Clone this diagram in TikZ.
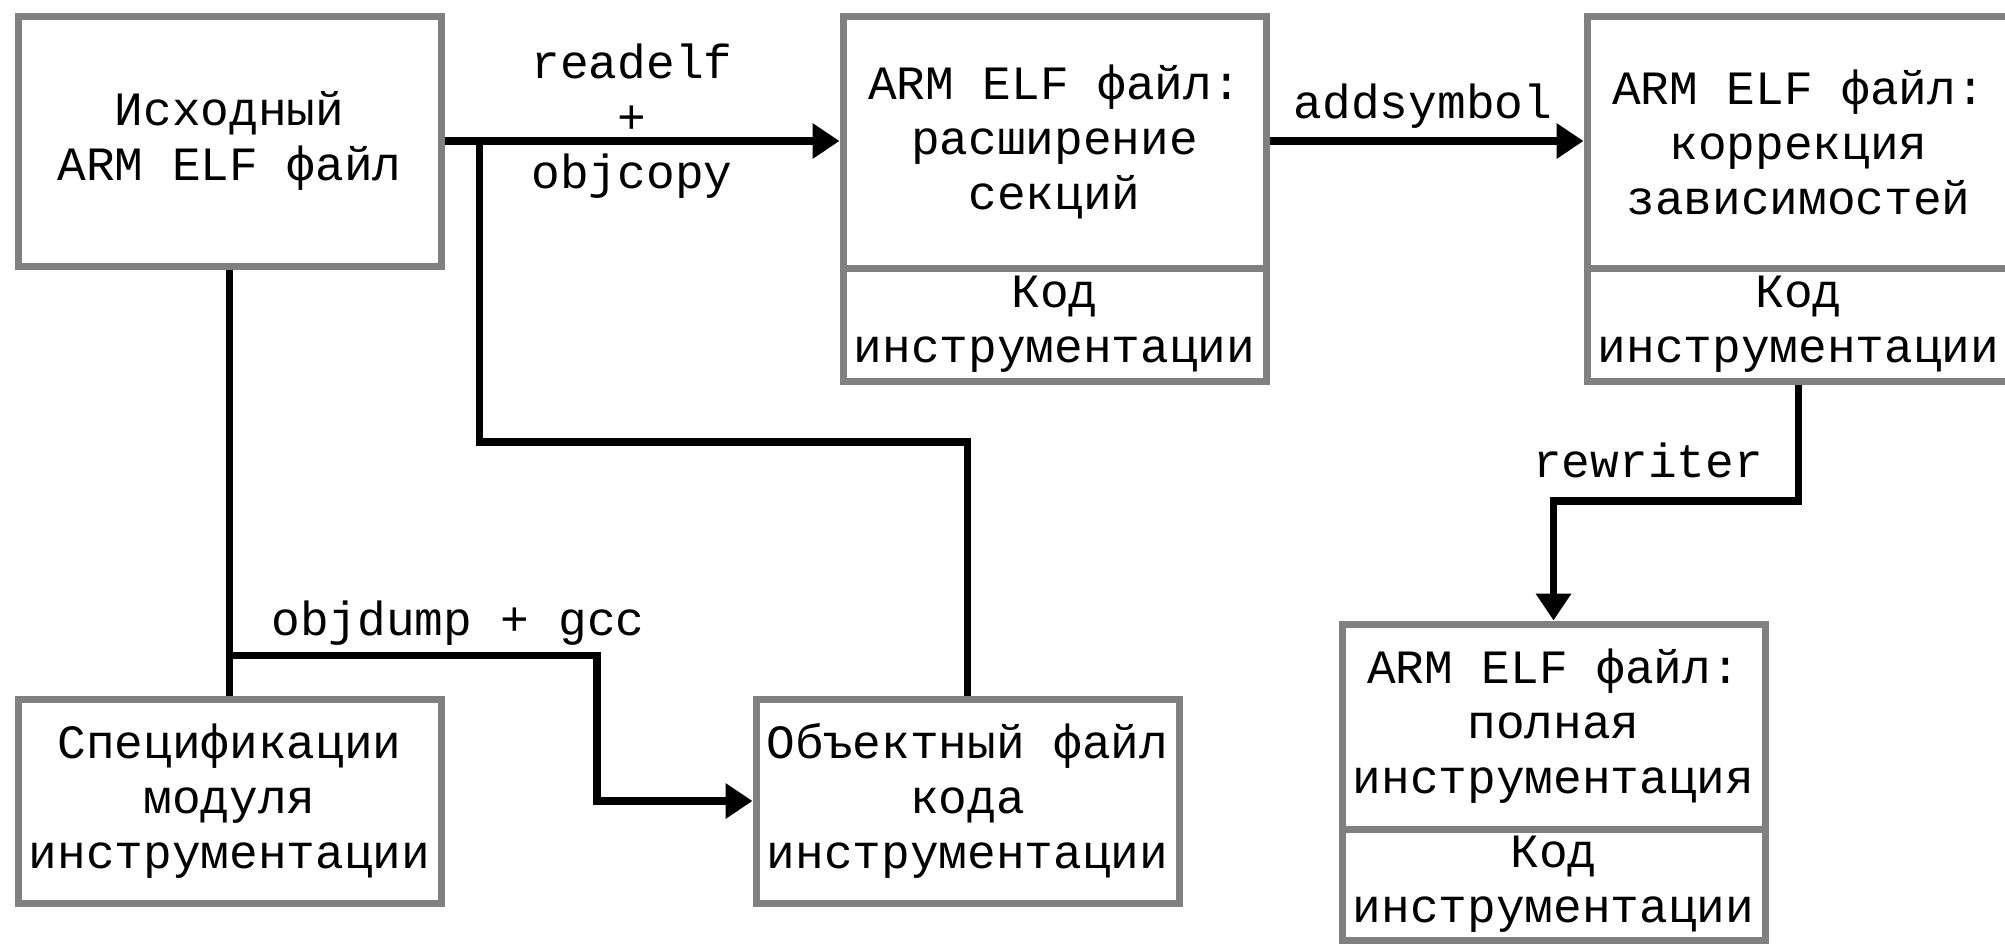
\documentclass[tikz,border=0pt]{standalone}
\usepackage{fontspec}
\newfontfamily\diagfont{Liberation Mono}
\usetikzlibrary{arrows.meta}
\definecolor{boxgray}{HTML}{808080}
\begin{document}
\begin{tikzpicture}[x=1pt,y=-1pt,
  box/.style={draw=boxgray,line width=7pt,fill=white,minimum width=423pt,inner sep=0pt,align=center,font={\diagfont\fontsize{47.8}{55}\selectfont}},
  lbl/.style={inner sep=0pt,align=center,font={\diagfont\fontsize{47.8}{55}\selectfont}},
  link/.style={line width=7.5pt},
  arr/.style={link,-{Triangle[length=27pt,width=34pt]}}]
\useasboundingbox (0,0) rectangle (2005,943);

\node[box,minimum height=250pt] (src) at (229.5,141) {Исходный\\ARM ELF файл};

\node[box,minimum height=252pt] (ext) at (1054.5,142) {ARM ELF файл:\\расширение\\секций};
\node[box,minimum height=113pt] (extcode) at (1054.5,324.5) {Код\\инструментации};

\node[box,minimum height=252pt] (corr) at (1798.5,142) {ARM ELF файл:\\коррекция\\зависимостей};
\node[box,minimum height=113pt] (corrcode) at (1798.5,324.5) {Код\\инструментации};

\node[box,minimum height=204pt] (spec) at (229.5,801) {Спецификации\\модуля\\инструментации};
\node[box,minimum height=204pt] (obj) at (967.5,801) {Объектный файл\\кода\\инструментации};

\node[box,minimum height=205pt] (full) at (1553.5,726.5) {ARM ELF файл:\\полная\\инструментация};
\node[box,minimum height=111pt] (fullcode) at (1553.5,884.5) {Код\\инструментации};

\coordinate (fork) at (479.5,141);
\coordinate (forkbend) at (479.5,442);
\coordinate (split) at (229.5,655.5);
\coordinate (splitbend) at (597,655.5);
\coordinate (rwbend) at (1798.5,501);

\draw[arr] (src.east) -- (src.east -| ext.west);
\draw[link] (fork) -- (forkbend) -| (obj.north);
\draw[link] (src.south) -- (spec.north);
\draw[arr] (split) -- (splitbend) |- (obj.west);
\draw[arr] (ext.east |- src.east) -- (src.east -| corr.west);
\draw[arr] (corrcode.south) -- (rwbend) -| (full.north);

\node[lbl] (lreadelf) at (632,121) {readelf\\+\\objcopy};
\node[lbl] (laddsym) at (1423,106) {addsymbol};
\node[lbl] (lobjdump) at (458,623) {objdump + gcc};
\node[lbl] (lrewriter) at (1648,460) {rewriter};
\end{tikzpicture}
\end{document}
